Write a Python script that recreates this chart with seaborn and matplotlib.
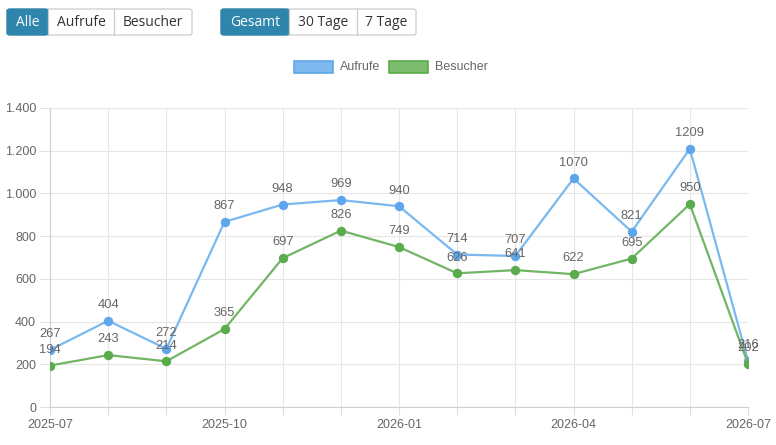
import matplotlib
matplotlib.use("Agg")
import matplotlib.pyplot as plt
import seaborn as sns
import pandas as pd
from matplotlib.patches import FancyBboxPatch, Rectangle
from matplotlib.ticker import FuncFormatter, FixedLocator

months = ["2025-07", "2025-08", "2025-09", "2025-10", "2025-11", "2025-12",
          "2026-01", "2026-02", "2026-03", "2026-04", "2026-05", "2026-06", "2026-07"]
aufrufe = [267, 404, 272, 867, 948, 969, 940, 714, 707, 1070, 821, 1209, 216]
besucher = [194, 243, 214, 365, 697, 826, 749, 626, 641, 622, 695, 950, 202]
tick_labels = ["2025-07", "", "", "2025-10", "", "", "2026-01", "", "", "2026-04", "", "", "2026-07"]
y_ticks = [0, 200, 400, 600, 800, 1000, 1200, 1400]
series_names = ["Aufrufe", "Besucher"]
buttons_left = ["Alle", "Aufrufe", "Besucher"]
buttons_right = ["Gesamt", "30 Tage", "7 Tage"]

sns.set_theme(style="white")
plt.rcParams["font.family"] = ["Liberation Sans", "DejaVu Sans"]

W, H = 776, 445
fig = plt.figure(figsize=(W / 100, H / 100), dpi=100)

def fx(px):
    return px / W

def fy(py):
    return 1 - py / H

ax = fig.add_axes([fx(50), fy(407), fx(748) - fx(50), fy(108) - fy(407)])

df = pd.DataFrame({"idx": list(range(len(months))) * 2,
                   "value": aufrufe + besucher,
                   "series": [series_names[0]] * len(months) + [series_names[1]] * len(months)})

line_cols = {"Aufrufe": "#7ab8f0", "Besucher": "#72b566"}
point_cols = {"Aufrufe": "#5ea6ec", "Besucher": "#5aab4b"}

for name in series_names:
    sub = df[df["series"] == name]
    sns.lineplot(data=sub, x="idx", y="value", ax=ax, color=line_cols[name],
                 linewidth=1.6, marker="o", markersize=6,
                 markerfacecolor=point_cols[name], markeredgecolor=point_cols[name],
                 legend=False, zorder=3)

for name, vals in [("Besucher", besucher), ("Aufrufe", aufrufe)]:
    for i, v in enumerate(vals):
        ax.annotate(str(v), (i, v), xytext=(0, 7), textcoords="offset points",
                    ha="center", va="bottom", fontsize=9.3, color="#666666", zorder=4)

ax.set_xlim(0, len(months) - 1)
ax.set_ylim(0, 1400)
ax.xaxis.set_major_locator(FixedLocator(list(range(len(months)))))
ax.set_xticklabels(tick_labels)
ax.set_yticks(y_ticks)
ax.yaxis.set_major_formatter(FuncFormatter(lambda v, p: f"{int(v):,}".replace(",", ".")))
ax.grid(True, color="#e6e6e6", linewidth=0.8)
ax.set_axisbelow(True)
for s in ["top", "right"]:
    ax.spines[s].set_visible(False)
for s in ["left", "bottom"]:
    ax.spines[s].set_color("#cfcfcf")
    ax.spines[s].set_linewidth(0.8)
ax.tick_params(axis="x", length=6, width=0.8, color="#e0e0e0", labelsize=9, labelcolor="#666666", pad=3, direction="out", bottom=True)
ax.tick_params(axis="y", length=7, width=0.8, color="#e0e0e0", labelsize=9, labelcolor="#666666", pad=3, direction="out", left=True)
ax.set_xlabel("")
ax.set_ylabel("")
ax.patch.set_alpha(0)

# legend
def box(x0, y0, x1, y1, fc, ec, lw=1.2):
    fig.patches.append(Rectangle((fx(x0), fy(y1)), fx(x1) - fx(x0), fy(y0) - fy(y1),
                                 transform=fig.transFigure, facecolor=fc, edgecolor=ec,
                                 linewidth=lw, figure=fig))

box(294, 61, 333, 73, "#7eb8ee", "#5fa6ea")
fig.text(fx(340), fy(67), series_names[0], fontsize=9, color="#666666", va="center", ha="left")
box(389, 61, 428, 73, "#7dbc6f", "#5aab4b")
fig.text(fx(435), fy(67), series_names[1], fontsize=9, color="#666666", va="center", ha="left")

# buttons
def button_group(edges, labels, active_idx):
    x0, x1 = edges[0], edges[-1]
    y0, y1 = 9, 35
    fig.patches.append(FancyBboxPatch((fx(x0), fy(y1)), fx(x1) - fx(x0), fy(y0) - fy(y1),
                                      boxstyle="round,pad=0,rounding_size=0.004",
                                      transform=fig.transFigure, facecolor="white",
                                      edgecolor="#cccccc", linewidth=0.9, figure=fig))
    for i, lab in enumerate(labels):
        a, b = edges[i], edges[i + 1]
        if i == active_idx:
            fig.patches.append(FancyBboxPatch((fx(a), fy(y1)), fx(b) - fx(a), fy(y0) - fy(y1),
                                              boxstyle="round,pad=0,rounding_size=0.004",
                                              transform=fig.transFigure, facecolor="#2e86ad",
                                              edgecolor="#2e86ad", linewidth=0.9, figure=fig))
            col = "white"
        else:
            col = "#333333"
            if i > 0:
                fig.lines.append(plt.Line2D([fx(a), fx(a)], [fy(y0), fy(y1)], transform=fig.transFigure,
                                            color="#cccccc", linewidth=0.9, figure=fig))
        fig.text(fx((a + b) / 2), fy(22.5), lab, fontsize=10, color=col, ha="center", va="center",
                 family=["Open Sans", "DejaVu Sans"])

button_group([7, 48, 114, 192], buttons_left, 0)
button_group([221, 289, 357, 416], buttons_right, 0)

fig.savefig("out.png", dpi=100)
